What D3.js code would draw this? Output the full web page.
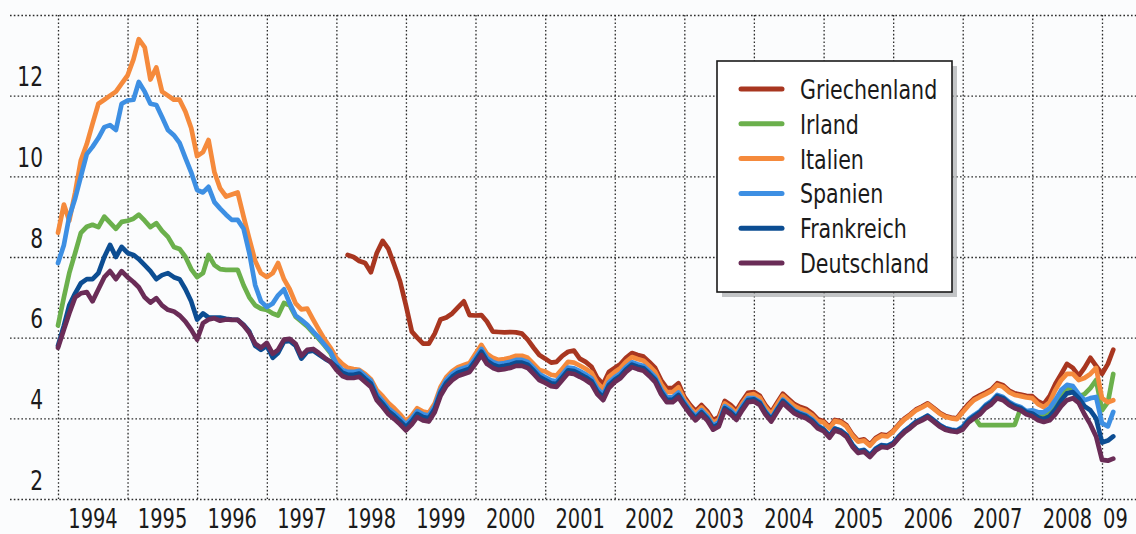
<!DOCTYPE html>
<html>
<head>
<meta charset="utf-8">
<script src="https://cdn.jsdelivr.net/npm/d3@7"></script>
<style>
  body { margin: 0; background: #fbfcfd; }
  svg { display: block; }
  text { font-family: "Liberation Sans Narrow", "DejaVu Sans Condensed", "Roboto Condensed", sans-serif; fill: #1a1a1a; }
</style>
</head>
<body>
<script>
// monthly yields (10y govt bonds), starting Jan 1994
const deutschland = [
  5.75, 6.2, 6.6, 7.0, 7.1, 7.13, 6.9, 7.2, 7.5, 7.65, 7.45, 7.65,
  7.5, 7.38, 7.25, 7.0, 6.87, 6.98, 6.8, 6.69, 6.65, 6.55, 6.4, 6.2,
  5.95, 6.36, 6.45, 6.48, 6.42, 6.45, 6.44, 6.44, 6.3, 6.12, 5.85, 5.75,
  5.87, 5.6, 5.7, 5.95, 5.97, 5.85, 5.55, 5.7, 5.72, 5.62, 5.5, 5.4,
  5.2, 5.05, 5.0, 5.0, 5.03, 4.9, 4.78, 4.45, 4.28, 4.1, 3.98, 3.85,
  3.7, 3.85, 4.03, 3.95, 3.92, 4.15, 4.55, 4.8, 4.95, 5.05, 5.1, 5.15,
  5.35, 5.57, 5.35, 5.25, 5.2, 5.22, 5.25, 5.3, 5.3, 5.25, 5.1, 4.95,
  4.88, 4.8, 4.78, 4.95, 5.12, 5.1, 5.03, 4.95, 4.85, 4.6, 4.45, 4.75,
  4.9, 5.0, 5.15, 5.27, 5.22, 5.18, 5.05, 4.9, 4.6, 4.4, 4.4, 4.52,
  4.3, 4.1, 3.95, 4.1, 3.95, 3.72, 3.8, 4.2, 4.1, 3.96, 4.2, 4.4,
  4.42, 4.33, 4.1, 3.92, 4.15, 4.38, 4.25, 4.12, 4.05, 4.0, 3.9, 3.75,
  3.68, 3.52, 3.7, 3.65, 3.54, 3.3, 3.14, 3.17, 3.04, 3.2, 3.29, 3.27,
  3.35, 3.52, 3.65, 3.76, 3.88, 3.95, 4.03, 3.92, 3.8, 3.72, 3.68, 3.66,
  3.72, 3.9, 4.0, 4.1, 4.25, 4.35, 4.5, 4.45, 4.33, 4.25, 4.2, 4.1,
  4.05, 3.95, 3.91, 3.95, 4.1, 4.3, 4.45, 4.5, 4.38, 4.1, 3.85, 3.55,
  2.97, 2.95, 3.0
];
const frankreich = [
  5.8, 6.3, 6.8, 7.1, 7.35, 7.45, 7.45, 7.6, 8.0, 8.3, 8.0, 8.25,
  8.1, 8.05, 7.95, 7.8, 7.65, 7.45, 7.55, 7.6, 7.5, 7.45, 7.2, 6.9,
  6.45, 6.6, 6.5, 6.5, 6.5, 6.47, 6.45, 6.44, 6.32, 6.15, 5.8, 5.7,
  5.8, 5.5, 5.62, 5.9, 5.92, 5.8, 5.48, 5.65, 5.68, 5.58, 5.48, 5.4,
  5.28, 5.13, 5.08, 5.08, 5.11, 4.98, 4.86, 4.53, 4.36, 4.18, 4.06, 3.93,
  3.78, 3.93, 4.11, 4.03, 4.0, 4.23, 4.63, 4.88, 5.03, 5.13, 5.18, 5.23,
  5.43, 5.65, 5.43, 5.33, 5.28, 5.3, 5.33, 5.38, 5.38, 5.33, 5.18, 5.03,
  4.95, 4.87, 4.85, 5.02, 5.19, 5.17, 5.1, 5.02, 4.92, 4.67, 4.52, 4.82,
  4.96, 5.06, 5.21, 5.33, 5.28, 5.24, 5.11, 4.96, 4.66, 4.46, 4.46, 4.58,
  4.35, 4.15, 4.0, 4.15, 4.0, 3.77, 3.85, 4.25, 4.15, 4.01, 4.25, 4.45,
  4.47, 4.38, 4.15, 3.97, 4.2, 4.43, 4.3, 4.17, 4.1, 4.05, 3.95, 3.8,
  3.72, 3.56, 3.74, 3.69, 3.58, 3.34, 3.18, 3.21, 3.08, 3.24, 3.33, 3.31,
  3.38, 3.55, 3.68, 3.79, 3.91, 3.98, 4.06, 3.95, 3.83, 3.75, 3.71, 3.69,
  3.77, 3.95, 4.05, 4.15, 4.3, 4.4, 4.55, 4.5, 4.38, 4.3, 4.25, 4.15,
  4.12, 4.02, 3.98, 4.05, 4.22, 4.45, 4.62, 4.65, 4.5, 4.3, 4.2, 4.0,
  3.4, 3.45, 3.55
];
const spanien = [
  7.85, 8.3, 9.0, 9.45, 10.0, 10.55, 10.73, 10.95, 11.22, 11.27, 11.15, 11.8,
  11.88, 11.9, 12.34, 12.1, 11.8, 11.77, 11.47, 11.15, 11.02, 10.83, 10.45, 10.1,
  9.66, 9.6, 9.74, 9.36, 9.2, 9.05, 8.92, 8.92, 8.7, 8.1, 7.3, 6.9,
  6.76, 6.85, 7.05, 7.2, 6.85, 6.55, 6.44, 6.32, 6.15, 6.0, 5.82, 5.65,
  5.35, 5.2, 5.15, 5.15, 5.18, 5.05, 4.93, 4.6, 4.43, 4.25, 4.13, 4.0,
  3.85, 4.0, 4.18, 4.1, 4.07, 4.3, 4.7, 4.95, 5.1, 5.2, 5.25, 5.3,
  5.5, 5.72, 5.5, 5.4, 5.35, 5.37, 5.4, 5.45, 5.45, 5.4, 5.25, 5.1,
  5.02, 4.94, 4.92, 5.09, 5.26, 5.24, 5.17, 5.09, 4.99, 4.74, 4.59, 4.89,
  5.02, 5.12, 5.27, 5.39, 5.34, 5.3, 5.17, 5.02, 4.72, 4.52, 4.52, 4.64,
  4.4, 4.2, 4.05, 4.2, 4.05, 3.82, 3.9, 4.3, 4.2, 4.06, 4.3, 4.5,
  4.5, 4.41, 4.18, 4.0, 4.23, 4.46, 4.33, 4.2, 4.13, 4.08, 3.98, 3.83,
  3.73, 3.57, 3.75, 3.7, 3.59, 3.35, 3.19, 3.22, 3.09, 3.25, 3.34, 3.32,
  3.39, 3.56, 3.69, 3.8, 3.92, 3.99, 4.07, 3.96, 3.84, 3.76, 3.72, 3.7,
  3.8, 3.98, 4.08, 4.18, 4.33, 4.43, 4.58, 4.53, 4.41, 4.33, 4.28, 4.18,
  4.2, 4.15, 4.15, 4.25, 4.45, 4.7, 4.83, 4.8, 4.6, 4.45, 4.5, 4.53,
  3.88, 3.8, 4.16
];
const italien = [
  8.6, 9.3, 8.9, 9.6, 10.4, 10.8, 11.3, 11.8, 11.9, 12.0, 12.1, 12.3,
  12.5, 12.9, 13.4, 13.2, 12.4, 12.7, 12.1, 12.0, 11.9, 11.9, 11.6, 11.2,
  10.5, 10.6, 10.9, 10.1, 9.7, 9.5, 9.55, 9.6, 9.0, 8.45, 7.9, 7.6,
  7.5, 7.6, 7.85, 7.45, 7.2, 6.85, 6.7, 6.72, 6.45, 6.2, 5.95, 5.75,
  5.5, 5.35, 5.25, 5.22, 5.2, 5.1, 4.97, 4.7, 4.55, 4.38, 4.25, 4.1,
  3.92, 4.07, 4.25, 4.17, 4.14, 4.37, 4.77, 5.02, 5.17, 5.27, 5.32, 5.37,
  5.6, 5.82, 5.6, 5.5, 5.45, 5.47, 5.5, 5.55, 5.55, 5.5, 5.35, 5.2,
  5.16, 5.08, 5.06, 5.23, 5.4, 5.38, 5.31, 5.23, 5.13, 4.88, 4.73, 5.03,
  5.15, 5.25, 5.4, 5.52, 5.47, 5.43, 5.3, 5.15, 4.85, 4.65, 4.65, 4.77,
  4.47, 4.27, 4.12, 4.27, 4.12, 3.89, 3.97, 4.37, 4.27, 4.13, 4.37, 4.57,
  4.6, 4.51, 4.28, 4.1, 4.33, 4.56, 4.43, 4.3, 4.23, 4.18, 4.08, 3.93,
  3.9, 3.75, 3.93, 3.9, 3.8, 3.57, 3.42, 3.45, 3.32, 3.48, 3.57, 3.55,
  3.67, 3.84, 3.97, 4.08, 4.2, 4.27, 4.35, 4.24, 4.12, 4.04, 4.0, 3.98,
  4.15, 4.32, 4.45, 4.53, 4.6, 4.68, 4.83, 4.78, 4.65, 4.58, 4.55, 4.52,
  4.5, 4.35, 4.28, 4.4, 4.7, 4.95, 5.1, 5.1, 4.95, 5.0, 5.1, 5.25,
  4.5, 4.4, 4.45
];
const irland = [
  6.3, 7.0, 7.6, 8.1, 8.6, 8.75, 8.8, 8.74, 9.0, 8.85, 8.7, 8.87,
  8.9, 8.95, 9.05, 8.9, 8.74, 8.84, 8.65, 8.5, 8.25, 8.2, 8.0, 7.7,
  7.5, 7.6, 8.05, 7.8, 7.7, 7.68, 7.68, 7.68, 7.3, 7.0, 6.8, 6.72,
  6.69, 6.6, 6.55, 6.86, 6.8, 6.52, 6.4, 6.28, 6.12, 5.97, 5.8, 5.62,
  5.31, 5.16, 5.11, 5.11, 5.14, 5.01, 4.89, 4.56, 4.39, 4.21, 4.09, 3.96,
  3.81, 3.96, 4.14, 4.06, 4.03, 4.26, 4.66, 4.91, 5.06, 5.16, 5.21, 5.26,
  5.46, 5.68, 5.46, 5.36, 5.31, 5.33, 5.36, 5.41, 5.41, 5.36, 5.21, 5.06,
  4.98, 4.9, 4.88, 5.05, 5.22, 5.2, 5.13, 5.05, 4.95, 4.7, 4.55, 4.85,
  4.98, 5.08, 5.23, 5.35, 5.3, 5.26, 5.13, 4.98, 4.68, 4.48, 4.48, 4.6,
  4.36, 4.16, 4.01, 4.16, 4.01, 3.78, 3.86, 4.26, 4.16, 4.02, 4.26, 4.46,
  4.47, 4.38, 4.15, 3.97, 4.2, 4.43, 4.3, 4.17, 4.1, 4.05, 3.95, 3.8,
  3.71, 3.55, 3.73, 3.68, 3.57, 3.33, 3.17, 3.2, 3.07, 3.23, 3.32, 3.3,
  3.37, 3.54, 3.67, 3.78, 3.9, 3.97, 4.05, 3.94, 3.82, 3.74, 3.7, 3.68,
  3.76, 3.94, 4.04, 3.83, 3.83, 3.83, 3.83, 3.83, 3.83, 3.84, 4.25, 4.15,
  4.12, 4.05, 4.05, 4.15, 4.35, 4.6, 4.75, 4.72, 4.55, 4.6, 4.75, 4.95,
  4.2, 4.4, 5.1
];
// Greece starts March 1998
const griechenland = [
  8.05, 8.0, 7.9, 7.85, 7.62, 8.1, 8.4, 8.2, 7.8, 7.4,
  6.8, 6.15, 6.0, 5.85, 5.85, 6.1, 6.45, 6.5, 6.6, 6.75, 6.9, 6.56,
  6.55, 6.56, 6.4, 6.15, 6.14, 6.13, 6.14, 6.13, 6.1, 5.95, 5.75, 5.57,
  5.48, 5.38, 5.4, 5.55, 5.65, 5.68, 5.48, 5.4, 5.28, 5.0, 4.85, 5.15,
  5.25, 5.35, 5.5, 5.62, 5.57, 5.53, 5.4, 5.25, 4.95, 4.75, 4.75, 4.87,
  4.53, 4.33, 4.18, 4.33, 4.18, 3.95, 4.03, 4.43, 4.33, 4.19, 4.43, 4.63,
  4.65, 4.56, 4.33, 4.15, 4.38, 4.61, 4.48, 4.35, 4.28, 4.23, 4.13, 3.98,
  3.93, 3.78, 3.96, 3.93, 3.83, 3.6, 3.45, 3.48, 3.35, 3.51, 3.6, 3.58,
  3.69, 3.86, 3.99, 4.1, 4.22, 4.29, 4.37, 4.26, 4.14, 4.06, 4.02, 4.0,
  4.19, 4.36, 4.49, 4.57, 4.64, 4.72, 4.87, 4.82, 4.69, 4.62, 4.59, 4.56,
  4.55, 4.42, 4.35, 4.55, 4.85, 5.1, 5.35, 5.25, 5.05, 5.25, 5.5, 5.3,
  5.1, 5.35, 5.7
];

const yTicks = [2, 4, 6, 8, 10, 12];
const yGrid = [2, 4, 6, 8, 10, 12, 14];
const years = d3.range(1994, 2010);
const yearLabels = ["1994", "1995", "1996", "1997", "1998", "1999", "2000", "2001",
  "2002", "2003", "2004", "2005", "2006", "2007", "2008", "09"];

const legendNames = ["Griechenland", "Irland", "Italien", "Spanien", "Frankreich", "Deutschland"];
const colors = {
  Griechenland: "#a83620",
  Irland: "#6bb04c",
  Italien: "#f58a3c",
  Spanien: "#3d8fe3",
  Frankreich: "#0c4d92",
  Deutschland: "#6a2c57"
};

const width = 1136;
const height = 534;
const squeeze = "scale(0.83,1)"; // condensed look of the print font

const svg = d3.select("body").append("svg")
  .attr("width", width)
  .attr("height", height);

const x = d3.scaleTime()
  .domain([new Date(1994, 0, 1), new Date(2009, 0, 1)])
  .range([58, 1102]);

const y = d3.scaleLinear()
  .domain([2, 14])
  .range([499, 15]);

// grid
const dotted = "1.6,2.2";

svg.append("g")
  .attr("transform", "translate(10,0)")
  .call(d3.axisLeft(y).tickValues(yGrid).tickSize(-(width - 10)).tickFormat(""))
  .call(g => g.select(".domain").remove())
  .call(g => g.selectAll(".tick line")
    .attr("stroke", "#2a2a2a").attr("stroke-width", 1.3).attr("stroke-dasharray", dotted));

svg.append("g")
  .attr("transform", "translate(0," + y(2) + ")")
  .call(d3.axisBottom(x).tickValues(years.map(d => new Date(d, 0, 1))).tickSize(-(y(2) - y(14))).tickFormat(""))
  .call(g => g.select(".domain").remove())
  .call(g => g.selectAll(".tick line")
    .attr("stroke", "#2a2a2a").attr("stroke-width", 1.3).attr("stroke-dasharray", dotted));

// y labels (sit above their grid line)
svg.append("g")
  .attr("transform", "translate(43,0)")
  .call(d3.axisLeft(y).tickValues(yTicks).tickSize(0).tickPadding(0).tickFormat(d3.format("d")))
  .call(g => g.select(".domain").remove())
  .call(g => g.selectAll("text")
    .attr("dy", -10)
    .attr("font-size", 27)
    .attr("transform", squeeze)
    .attr("fill", "#1a1a1a"));

// x labels, centred in each year
const labelDates = years.map((d, i) => i < years.length - 1 ? new Date(d, 6, 1) : new Date(d, 2, 10));
svg.append("g")
  .attr("transform", "translate(0,528)")
  .call(d3.axisBottom(x).tickValues(labelDates).tickSize(0).tickPadding(0)
    .tickFormat((d, i) => yearLabels[i]))
  .call(g => g.select(".domain").remove())
  .call(g => g.selectAll("text")
    .attr("dy", 0)
    .attr("font-size", 26)
    .attr("transform", squeeze)
    .attr("fill", "#1a1a1a"));

// series
const seriesData = [
  { name: "Griechenland", start: 50, values: griechenland },
  { name: "Irland", start: 0, values: irland },
  { name: "Italien", start: 0, values: italien },
  { name: "Spanien", start: 0, values: spanien },
  { name: "Frankreich", start: 0, values: frankreich },
  { name: "Deutschland", start: 0, values: deutschland }
];

const line = d3.line()
  .x(d => x(d.date))
  .y(d => y(d.value));

svg.append("g")
  .selectAll("path")
  .data(seriesData)
  .join("path")
    .attr("fill", "none")
    .attr("stroke", d => colors[d.name])
    .attr("stroke-width", 4.7)
    .attr("stroke-linejoin", "round")
    .attr("stroke-linecap", "round")
    .attr("d", s => line(s.values.map((v, i) => ({ date: new Date(1994, s.start + i, 1), value: v }))));

// legend
const legend = svg.append("g").attr("transform", "translate(717,61)");
legend.append("rect")
  .attr("x", 5).attr("y", 5)
  .attr("width", 235).attr("height", 231)
  .attr("fill", "#a9acae").attr("opacity", 0.7);
legend.append("rect")
  .attr("width", 235).attr("height", 231)
  .attr("fill", "#ffffff")
  .attr("stroke", "#1a1a1a").attr("stroke-width", 1.6);

const rows = legend.selectAll("g.row")
  .data(legendNames)
  .join("g")
    .attr("class", "row")
    .attr("transform", (d, i) => "translate(0," + (28 + i * 34.8) + ")");

rows.append("line")
  .attr("x1", 24).attr("x2", 65)
  .attr("stroke", d => colors[d])
  .attr("stroke-width", 5)
  .attr("stroke-linecap", "round");

rows.append("text")
  .attr("transform", "translate(83,10) scale(0.88,1)")
  .attr("font-size", 26)
  .text(d => d);
</script>
</body>
</html>
